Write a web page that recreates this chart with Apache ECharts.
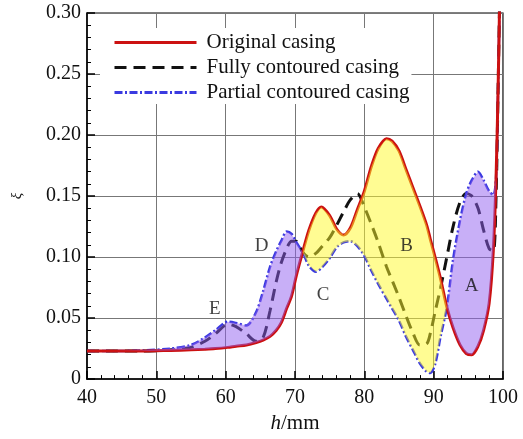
<!DOCTYPE html>
<html>
<head>
<meta charset="utf-8">
<script src="https://cdn.jsdelivr.net/npm/echarts@6/dist/echarts.min.js"></script>
<style>
html,body{margin:0;padding:0;background:#fff;}
#chart{width:523px;height:439px;}
</style>
</head>
<body>
<div id="chart"></div>
<script>
// ---- data ----
const hValues = [40, 44, 48, 52, 55, 57, 58.5, 60.3, 61.5, 63, 64.4, 65.4, 66.4, 67.3, 68, 68.8, 69.5, 70.2, 71.1, 72, 73, 73.8, 75, 76, 77, 78, 79, 80, 81, 82, 83.2, 84, 85, 86, 87, 88, 89, 89.5, 90.2, 91, 91.9, 92.8, 93.8, 94.7, 95.5, 96.4, 97.2, 98, 98.6, 99, 99.3, 99.5];
const originalCasing = [0.023, 0.023, 0.023, 0.0235, 0.024, 0.0245, 0.025, 0.026, 0.027, 0.028, 0.030, 0.032, 0.035, 0.040, 0.046, 0.058, 0.068, 0.085, 0.104, 0.122, 0.136, 0.141, 0.134, 0.123, 0.118, 0.124, 0.139, 0.154, 0.174, 0.189, 0.197, 0.195, 0.187, 0.172, 0.157, 0.142, 0.126, 0.115, 0.100, 0.082, 0.059, 0.042, 0.028, 0.021, 0.020, 0.027, 0.040, 0.062, 0.105, 0.165, 0.24, 0.305];
const fullyContoured = [0.023, 0.023, 0.023, 0.024, 0.026, 0.031, 0.037, 0.045, 0.043, 0.037, 0.031, 0.034, 0.056, 0.080, 0.095, 0.107, 0.113, 0.113, 0.104, 0.100, 0.103, 0.108, 0.116, 0.126, 0.137, 0.147, 0.152, 0.141, 0.127, 0.112, 0.092, 0.081, 0.067, 0.052, 0.038, 0.028, 0.029, 0.037, 0.055, 0.075, 0.100, 0.125, 0.145, 0.152, 0.150, 0.140, 0.122, 0.107, 0.105, 0.150, 0.24, 0.305];
const partialContoured = [0.023, 0.023, 0.0235, 0.025, 0.028, 0.034, 0.040, 0.047, 0.046, 0.044, 0.055, 0.072, 0.092, 0.105, 0.113, 0.121, 0.119, 0.112, 0.104, 0.093, 0.088, 0.091, 0.099, 0.108, 0.112, 0.113, 0.109, 0.101, 0.089, 0.078, 0.066, 0.058, 0.048, 0.035, 0.024, 0.013, 0.006, 0.005, 0.012, 0.035, 0.059, 0.098, 0.130, 0.152, 0.163, 0.170, 0.163, 0.154, 0.151, 0.165, 0.24, 0.305];
const xTickLabels = ['40', '50', '60', '70', '80', '90', '100'];
const yTickLabels = ['0', '0.05', '0.10', '0.15', '0.20', '0.25', '0.30'];
const regionNames = ['A', 'B', 'C', 'D', 'E'];
const regionH = [95.47, 86.09, 74.05, 65.17, 58.43];
const regionXi = [0.0762, 0.1087, 0.0693, 0.1087, 0.0572];
const seriesNames = ['Original casing', 'Fully contoured casing', 'Partial contoured casing'];

// ---- fill regions between original and partial casing (by sign of difference) ----
const fillRegions = [];
let cur = null;
for (let i = 0; i < hValues.length - 1; i++) {
  const d = (partialContoured[i] + partialContoured[i + 1]) - (originalCasing[i] + originalCasing[i + 1]);
  const s = Math.abs(d) < 1e-9 ? 0 : (d > 0 ? 1 : -1);
  if (s === 0) { if (cur) { fillRegions.push(cur); cur = null; } continue; }
  if (cur && cur.s === s) { cur.end = i + 1; }
  else { if (cur) fillRegions.push(cur); cur = { start: i, end: i + 1, s: s }; }
}
if (cur) fillRegions.push(cur);

const serif = 'Liberation Serif';
const chart = echarts.init(document.getElementById('chart'));
const toPairs = (ys) => hValues.map((h, i) => [h, ys[i]]);

chart.setOption({
  animation: false,
  backgroundColor: '#fff',
  grid: { left: 87, right: 20, top: 13, bottom: 57, show: true, borderColor: '#000', borderWidth: 1.2, backgroundColor: 'transparent' },
  legend: {
    data: seriesNames,
    orient: 'vertical',
    left: 100, top: 28,
    padding: [4, 2, 1, 13],
    itemGap: 4,
    itemWidth: 82, itemHeight: 14,
    backgroundColor: '#fff',
    itemStyle: { opacity: 0 },
    lineStyle: { width: 3 },
    textStyle: { fontFamily: serif, fontSize: 21, lineHeight: 21, color: '#111', padding: [0, 0, 0, 5] }
  },
  xAxis: {
    type: 'value', min: 40, max: 100, interval: 10,
    name: '{i|h}/mm', nameLocation: 'middle', nameGap: 32,
    nameTextStyle: { fontFamily: serif, fontSize: 21, color: '#111', rich: { i: { fontFamily: serif, fontSize: 21, fontStyle: 'italic', color: '#111' } } },
    axisLine: { lineStyle: { color: '#000', width: 1.5 } },
    axisTick: { inside: true, length: 8, lineStyle: { color: '#000', width: 1.5 } },
    minorTick: { show: true, splitNumber: 5, length: 4, lineStyle: { color: '#000', width: 1 } },
    axisLabel: { fontFamily: serif, fontSize: 20, color: '#111', margin: 9, formatter: (v) => xTickLabels[Math.round((v - 40) / 10)] },
    splitLine: { show: true, lineStyle: { color: '#777', width: 1 } }
  },
  yAxis: {
    type: 'value', min: 0, max: 0.3, interval: 0.05,
    name: 'ξ', nameLocation: 'middle', nameGap: 62,
    nameTextStyle: { fontFamily: serif, fontSize: 15, fontStyle: 'italic', color: '#111' },
    axisLine: { show: true, lineStyle: { color: '#000', width: 1.5 } },
    axisTick: { show: true, inside: true, length: 8, lineStyle: { color: '#000', width: 1.5 } },
    minorTick: { show: true, splitNumber: 5, length: 4, lineStyle: { color: '#000', width: 1 } },
    axisLabel: { fontFamily: serif, fontSize: 20, color: '#111', margin: 6, formatter: (v) => yTickLabels[Math.round(v / 0.05)] },
    splitLine: { show: true, lineStyle: { color: '#777', width: 1 } }
  },
  series: [
    {
      name: seriesNames[1], type: 'line', data: toPairs(fullyContoured), symbol: 'none', smooth: 0.3, z: 2,
      lineStyle: { color: '#111', width: 3, type: [12, 7] }, itemStyle: { color: '#111' }
    },
    {
      name: seriesNames[2], type: 'line', data: toPairs(partialContoured), symbol: 'none', smooth: 0.3, z: 2,
      lineStyle: { color: '#3a3ae0', width: 2.5, type: [8, 2.5, 2, 2.5] }, itemStyle: { color: '#3a3ae0' }
    },
    {
      name: seriesNames[0], type: 'line', data: toPairs(originalCasing), symbol: 'none', smooth: 0.3, z: 2,
      lineStyle: { color: '#cc1111', width: 3 }, itemStyle: { color: '#cc1111' }
    },
    {
      type: 'custom', z: 3, silent: true,
      encode: { x: 0, y: 1 },
      data: fillRegions.map(r => [hValues[r.start], originalCasing[r.start], r.start, r.end, r.s]),
      renderItem: function (params, api) {
        const s = api.value(2), e = api.value(3), sign = api.value(4);
        const pts = [];
        for (let k = s; k <= e; k++) pts.push(api.coord([hValues[k], originalCasing[k]]));
        for (let k = e; k >= s; k--) pts.push(api.coord([hValues[k], partialContoured[k]]));
        return {
          type: 'polygon',
          shape: { points: pts, smooth: 0 },
          style: { fill: sign > 0 ? 'rgba(145,95,240,0.5)' : 'rgba(255,250,40,0.5)', stroke: 'none' }
        };
      }
    },
    {
      type: 'scatter', z: 5, symbolSize: 0, silent: true,
      data: regionNames.map((n, i) => ({ value: [regionH[i], regionXi[i]], name: n })),
      label: { show: true, position: 'inside', formatter: (p) => p.name, fontFamily: serif, fontSize: 19, color: '#111' }
    }
  ]
});
</script>
</body>
</html>
